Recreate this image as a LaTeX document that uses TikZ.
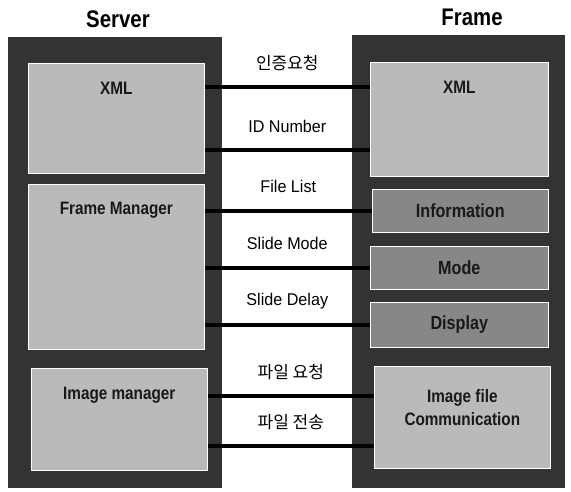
\documentclass[tikz,border=0pt]{standalone}
\usepackage{fontspec}
\setmainfont{Liberation Sans}
\newfontfamily\narrowfont[FakeStretch=0.95]{Liberation Sans}
\newfontfamily\condfont[FakeStretch=0.85]{Liberation Sans}
\newfontfamily\krfont{Noto Sans CJK KR}
\usetikzlibrary{positioning}

\begin{document}
\begin{tikzpicture}[x=1pt,y=-1pt,panel/.style={anchor=north west,fill=black!80,inner sep=0pt},inbox/.style={anchor=north west,fill=black!27,draw=white,line width=.6pt,inner sep=0pt},subbox/.style={inbox,fill=black!47,font=\condfont\bfseries\fontsize{19}{21}\selectfont,text=black!90},tag/.style={font=\condfont\bfseries\fontsize{18}{23}\selectfont,text=black!90,align=center},title/.style={font=\condfont\bfseries\fontsize{24}{26}\selectfont},link/.style={line width=4.5pt,draw=black},lbl/.style={midway,yshift=24pt,font=\narrowfont\fontsize{17}{19}\selectfont},krlbl/.style={lbl,font=\krfont\fontsize{17}{19}\selectfont}]
\useasboundingbox (0,0) rectangle (571,492);
\node[title] (stitle) at (118,19) {Server};
\node[title] (ftitle) at (472,17) {Frame};
\node[panel,minimum width=214pt,minimum height=451pt] (spanel) at (8,37) {};
\node[panel,minimum width=213pt,minimum height=453pt] (fpanel) at (352,35) {};
\node[inbox,minimum width=176pt,minimum height=110pt] (sxml) at (28,63) {};
\node[inbox,minimum width=176pt,minimum height=165pt] (sfm) at (28,184) {};
\node[inbox,minimum width=176pt,minimum height=102pt] (simg) at (31,368) {};
\node[inbox,minimum width=178pt,minimum height=114pt] (fxml) at (370,62) {};
\node[subbox,minimum width=176pt,minimum height=43pt] (info) at (372,189) {Information};
\node[subbox,minimum width=178pt,minimum height=43pt] (mode) at (370,246) {Mode};
\node[subbox,minimum width=178pt,minimum height=45pt] (disp) at (370,302) {Display};
\node[inbox,minimum width=176pt,minimum height=102pt] (fimg) at (374,366) {};
\node[tag] (sxmlt) at ([yshift=-25pt]sxml.north) {XML};
\node[tag] (sfmt) at ([yshift=-26pt]sfm.north) {Frame Manager};
\node[tag] (simgt) at ([yshift=-27pt]simg.north) {Image manager};
\node[tag] (fxmlt) at ([yshift=-25pt]fxml.north) {XML};
\node[tag] (fimgt) at ([yshift=-42pt]fimg.north) {Image file\\Communication};
\draw[link] (sxml.east |- 0,87) -- node[krlbl]{인증요청} (fxml.west |- 0,87);
\draw[link] (sxml.east |- 0,150) -- node[lbl]{ID Number} (fxml.west |- 0,150);
\draw[link] (sfm.east |- info.west) -- node[lbl]{File List} (info.west);
\draw[link] (sfm.east |- mode.west) -- node[lbl]{Slide Mode} (mode.west);
\draw[link] (sfm.east |- disp.west) -- node[lbl]{Slide Delay} (disp.west);
\draw[link] (simg.east |- 0,396) -- node[krlbl]{파일 요청} (fimg.west |- 0,396);
\draw[link] (simg.east |- 0,446) -- node[krlbl]{파일 전송} (fimg.west |- 0,446);
\end{tikzpicture}
\end{document}
